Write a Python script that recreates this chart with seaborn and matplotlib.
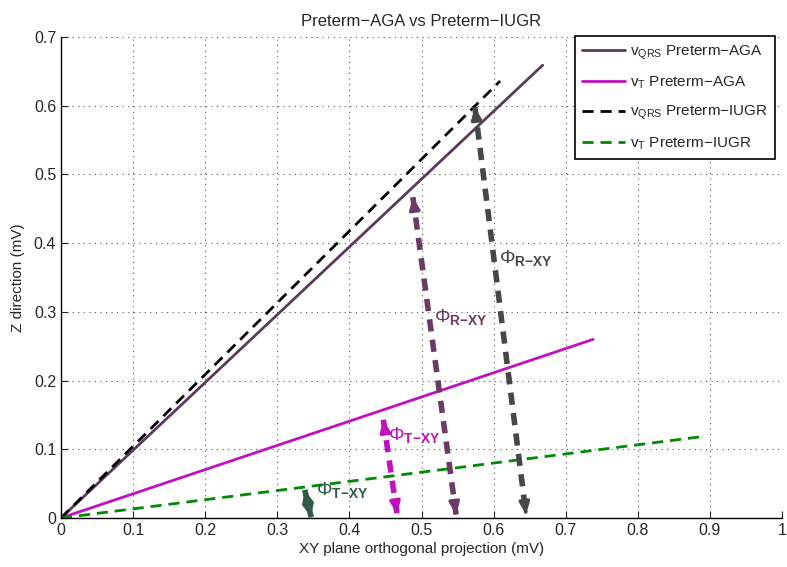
import numpy as np
import pandas as pd
import matplotlib
matplotlib.use('Agg')
import matplotlib.pyplot as plt
import seaborn as sns

# vector endpoints (start at origin)
series = ['$\\mathregular{v_{QRS}}$ Preterm\u2212AGA', '$\\mathregular{v_{T}}$ Preterm\u2212AGA',
          '$\\mathregular{v_{QRS}}$ Preterm\u2212IUGR', '$\\mathregular{v_{T}}$ Preterm\u2212IUGR']
end_xy = [0.668, 0.738, 0.609, 0.893]
end_z = [0.659, 0.260, 0.636, 0.119]
line_colors = ['#5b3a5c', '#c010c0', '#000000', '#008a00']
line_dash = ['-', '-', '--', '--']

# angle arcs (top point -> bottom point)
arc_labels = ['R{-}XY', 'R{-}XY', 'T{-}XY', 'T{-}XY']
arc_x0 = [0.574, 0.488, 0.447, 0.338]
arc_z0 = [0.598, 0.467, 0.143, 0.041]
arc_x1 = [0.645, 0.548, 0.466, 0.347]
arc_z1 = [0.005, 0.005, 0.006, 0.001]
arc_colors = ['#474747', '#6b3a66', '#c010c0', '#2f5c48']
lab_x = [0.607, 0.517, 0.454, 0.354]
lab_z = [0.363, 0.276, 0.105, 0.025]

sns.set_style('ticks')
plt.rcParams['font.family'] = ['Liberation Sans', 'DejaVu Sans']
plt.rcParams['mathtext.fontset'] = 'custom'
plt.rcParams['mathtext.rm'] = 'Liberation Sans'
plt.rcParams['mathtext.bf'] = 'Liberation Sans:bold'

fig = plt.figure(figsize=(7.87, 5.67), dpi=100)
ax = fig.add_axes([0.0775, 0.0864, 0.9162, 0.8483])

rows = []
for name, ex, ez in zip(series, end_xy, end_z):
    rows.append({'s': name, 'x': 0.0, 'z': 0.0})
    rows.append({'s': name, 'x': ex, 'z': ez})
df = pd.DataFrame(rows)

sns.lineplot(data=df, x='x', y='z', hue='s', style='s', ax=ax,
             palette=dict(zip(series, line_colors)),
             dashes=dict(zip(series, [(None, None) if d == '-' else (4, 2.5) for d in line_dash])),
             linewidth=2, sort=False, estimator=None, legend=False)

for i in range(4):
    ax.plot([arc_x0[i], arc_x1[i]], [arc_z0[i], arc_z1[i]], color=arc_colors[i],
            lw=4, ls=(0, (2.2, 1.5)), solid_capstyle='butt', zorder=4)
    # heads at both ends
    for (xa, za, xb, zb) in [(arc_x0[i], arc_z0[i], arc_x1[i], arc_z1[i]),
                             (arc_x1[i], arc_z1[i], arc_x0[i], arc_z0[i])]:
        t = 0.004 / np.hypot(xb - xa, zb - za)
        ax.annotate('', xy=(xa, za), xytext=(xa + (xb - xa) * t, za + (zb - za) * t),
                    arrowprops=dict(arrowstyle='-|>,head_length=0.7,head_width=0.3',
                                    color=arc_colors[i], lw=2.5, shrinkA=0, shrinkB=0),
                    zorder=5)
    ax.text(lab_x[i], lab_z[i], '$\\Phi_{\\mathbf{' + arc_labels[i] + '}}$',
            color=arc_colors[i], fontsize=14, ha='left', va='bottom', zorder=6)

handles = [plt.Line2D([], [], color=c, lw=2, ls=d, dashes=(4, 2.5) if d == '--' else (None, None))
           for c, d in zip(line_colors, line_dash)]
leg = ax.legend(handles, series, loc='upper right', fontsize=11, frameon=True, fancybox=False,
                edgecolor='black', framealpha=1, borderaxespad=0.3, handlelength=2.8,
                labelspacing=0.85, borderpad=0.5, handletextpad=0.3,
                bbox_to_anchor=(0.997, 1.012))
leg.get_frame().set_linewidth(1.2)

ax.set_xlim(0, 1)
ax.set_ylim(0, 0.7)
ax.set_xticks(np.arange(0, 1.01, 0.1))
ax.set_xticklabels(['0', '0.1', '0.2', '0.3', '0.4', '0.5', '0.6', '0.7', '0.8', '0.9', '1'])
ax.set_yticks(np.arange(0, 0.71, 0.1))
ax.set_yticklabels(['0', '0.1', '0.2', '0.3', '0.4', '0.5', '0.6', '0.7'])
ax.tick_params(direction='in', length=5, labelsize=11.5, width=0.8)
ax.grid(True, ls=(0, (1, 4)), color='#555555', lw=0.8)
for s in ['top', 'right']:
    ax.spines[s].set_visible(False)
for s in ['left', 'bottom']:
    ax.spines[s].set_linewidth(1.0)
    ax.spines[s].set_color('black')

ax.set_xlabel('XY plane orthogonal projection (mV)', fontsize=11, labelpad=3)
ax.set_ylabel('Z direction (mV)', fontsize=11, labelpad=6)
ax.set_title('Preterm\u2212AGA vs Preterm\u2212IUGR', fontsize=12, pad=8)

fig.savefig('out.png', dpi=100)
